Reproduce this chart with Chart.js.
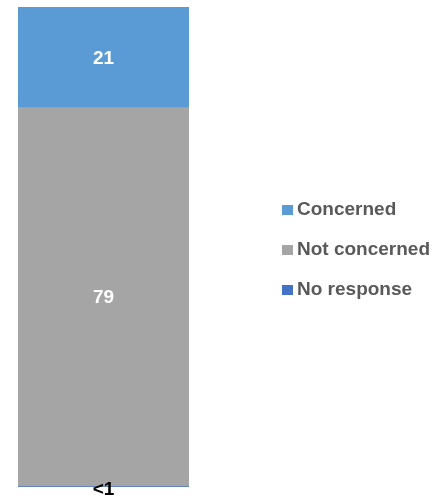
<!DOCTYPE html>
<html>
<head>
<meta charset="utf-8">
<script src="https://cdn.jsdelivr.net/npm/chart.js@4.4.1/dist/chart.umd.min.js"></script>
<style>
  html, body { margin: 0; padding: 0; background: #fff; }
  #wrap { position: relative; width: 444px; height: 498px; }
  #legend { position: absolute; left: 282px; top: 198px; font: bold 19px "Liberation Sans", Arial, sans-serif; color: #595959; }
  #legend .item { height: 40px; white-space: nowrap; }
  #legend .box { display: inline-block; width: 11px; height: 10px; margin-right: 4px; }
</style>
</head>
<body>
<div id="wrap">
  <canvas id="bar-chart" width="444" height="498"></canvas>
  <div id="legend"></div>
</div>
<script>
// categories (legend order, top of the stack first)
const categories = ['Concerned', 'Not concerned', 'No response'];
const values = [21, 79, 0.1];
const valueLabels = ['21', '79', '<1'];
const colours = ['#5B9BD5', '#A5A5A5', '#4472C4'];

// stacked bars draw the first dataset at the bottom, so reverse
const datasets = categories.map(function(name, i) {
  return {
    label: name,
    data: [values[i]],
    backgroundColor: colours[i],
    valueLabel: valueLabels[i],
    barPercentage: 1,
    categoryPercentage: 1
  };
}).reverse();

const total = values.reduce((a, b) => a + b, 0);

// writes the value in the middle of every segment
const segmentLabels = {
  id: 'segmentLabels',
  afterDatasetsDraw(chart) {
    const ctx = chart.ctx;
    ctx.save();
    ctx.font = 'bold 19px "Liberation Sans", Arial, sans-serif';
    ctx.textAlign = 'center';
    ctx.textBaseline = 'middle';
    chart.data.datasets.forEach(function(ds, i) {
      chart.getDatasetMeta(i).data.forEach(function(bar) {
        const h = Math.abs(bar.base - bar.y);
        if (h < 12) {
          ctx.fillStyle = '#000';
          ctx.fillText(ds.valueLabel, bar.x, bar.base + 3);
        } else {
          ctx.fillStyle = '#fff';
          ctx.fillText(ds.valueLabel, bar.x, (bar.y + bar.base) / 2 + 1);
        }
      });
    });
    ctx.restore();
  }
};

var ctx = document.getElementById('bar-chart').getContext('2d');
var myChart = new Chart(ctx, {
  type: 'bar',
  data: { labels: [''], datasets: datasets },
  options: {
    responsive: false,
    animation: false,
    layout: { padding: { left: 18, right: 255, top: 7, bottom: 11 } },
    scales: {
      x: { stacked: true, display: false },
      y: { stacked: true, display: false, min: 0, max: total }
    },
    plugins: {
      legend: { display: false },
      tooltip: { enabled: false }
    }
  },
  plugins: [segmentLabels]
});

// legend beside the bar
const legendEl = document.getElementById('legend');
categories.forEach(function(name, i) {
  const row = document.createElement('div');
  row.className = 'item';
  const box = document.createElement('span');
  box.className = 'box';
  box.style.background = colours[i];
  row.appendChild(box);
  row.appendChild(document.createTextNode(name));
  legendEl.appendChild(row);
});
</script>
</body>
</html>
